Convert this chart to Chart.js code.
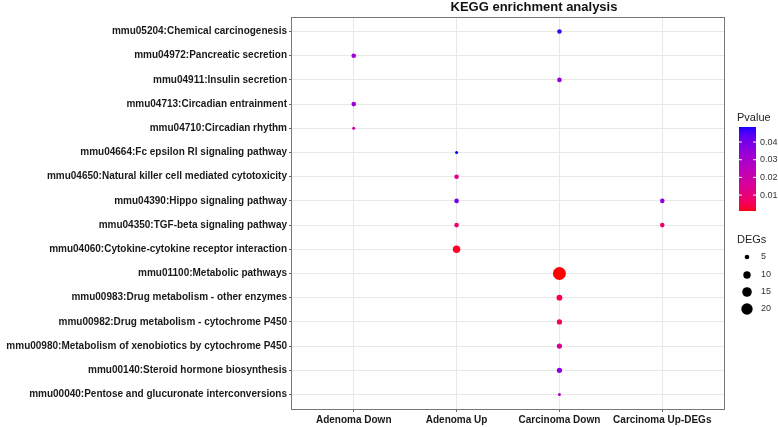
<!DOCTYPE html>
<html>
<head>
<meta charset="utf-8">
<script src="https://cdn.jsdelivr.net/npm/chart.js@4.4.1/dist/chart.umd.min.js"></script>
<style>
html,body{margin:0;padding:0;background:#fff;}
#wrap{width:778px;height:427px;}
</style>
</head>
<body>
<div id="wrap"><canvas id="keggChart" width="778" height="427"></canvas></div>
<script>
// top to bottom
const pathways = [
"mmu05204:Chemical carcinogenesis",
"mmu04972:Pancreatic secretion",
"mmu04911:Insulin secretion",
"mmu04713:Circadian entrainment",
"mmu04710:Circadian rhythm",
"mmu04664:Fc epsilon RI signaling pathway",
"mmu04650:Natural killer cell mediated cytotoxicity",
"mmu04390:Hippo signaling pathway",
"mmu04350:TGF-beta signaling pathway",
"mmu04060:Cytokine-cytokine receptor interaction",
"mmu01100:Metabolic pathways",
"mmu00983:Drug metabolism - other enzymes",
"mmu00982:Drug metabolism - cytochrome P450",
"mmu00980:Metabolism of xenobiotics by cytochrome P450",
"mmu00140:Steroid hormone biosynthesis",
"mmu00040:Pentose and glucuronate interconversions"
];

const groups = ["Adenoma Down","Adenoma Up","Carcinoma Down","Carcinoma Up-DEGs"];

// one entry per dot
const pointPathway = [0,1,2,3,4,5,6,7,7,8,8,9,10,11,12,13,14,15];
const pointGroup   = [2,0,2,0,0,1,1,1,3,1,3,1,2,2,2,2,2,2];
const pointPvalue  = [0.046,0.032,0.034,0.032,0.020,0.0485,0.013,0.040,0.034,0.007,0.008,0.002,0.001,0.004,0.006,0.015,0.036,0.028];
const pointDEGs    = [5,5,5,5,3,3,5,5,5,5,5,10,25,7,6,6,6,3];

const colorTicks = [0.01,0.02,0.03,0.04];
const sizeBreaks = [5,10,15,20];

const pMin = Math.min(...pointPvalue);
const pMax = Math.max(...pointPvalue);

// red -> blue, mixed in linear light
function toLin(c){c/=255;return c<=0.04045?c/12.92:Math.pow((c+0.055)/1.055,2.4);}
function fromLin(c){let v=c<=0.0031308?12.92*c:1.055*Math.pow(c,1/2.4)-0.055;return Math.max(0,Math.min(255,Math.round(v*255)));}
function pColor(p){
let t=(p-pMin)/(pMax-pMin);
t=Math.max(0,Math.min(1,t));
const r=fromLin(toLin(255)*(1-t));
const b=fromLin(toLin(255)*t);
return "rgb("+r+",0,"+b+")";
}
function degRadius(n){
return Math.max(1,-1.1+1.52*Math.sqrt(n));
}

let points = [];
for(let i=0;i<pointPathway.length;i++){
points.push({x:pointGroup[i]+1,y:pointPathway[i]+1});
}

const legendPlugin = {
id:"keggLegend",
afterDraw(chart){
const c = chart.ctx;
const a = chart.chartArea;
c.save();
// panel border
c.strokeStyle="#777";
c.lineWidth=1;
c.strokeRect(Math.round(a.left)-0.5,Math.round(a.top)+0.5,Math.round(a.right-a.left)+1,Math.round(a.bottom-a.top));
// title
c.fillStyle="#111";
c.font="bold 13px 'Liberation Sans', Arial, sans-serif";
c.textAlign="center";
c.textBaseline="middle";
c.fillText("KEGG enrichment analysis",534,7);
// Pvalue colour bar
c.textAlign="left";
c.font="11px 'Liberation Sans', Arial, sans-serif";
c.fillStyle="#222";
c.fillText("Pvalue",737,118);
const barTop=127, barBot=211, barX=739, barW=17;
for(let y=barTop;y<barBot;y++){
const v=pMax-(y+0.5-barTop)/(barBot-barTop)*(pMax-pMin);
c.fillStyle=pColor(v);
c.fillRect(barX,y,barW,1);
}
c.font="9px 'Liberation Sans', Arial, sans-serif";
for(let i=0;i<colorTicks.length;i++){
const y=barTop+(pMax-colorTicks[i])/(pMax-pMin)*(barBot-barTop);
c.strokeStyle="#fff";
c.beginPath();
c.moveTo(barX,y);c.lineTo(barX+3,y);
c.moveTo(barX+barW-3,y);c.lineTo(barX+barW,y);
c.stroke();
c.fillStyle="#333";
c.fillText(colorTicks[i].toFixed(2),760,y);
}
// DEGs size legend
c.font="11px 'Liberation Sans', Arial, sans-serif";
c.fillStyle="#222";
c.fillText("DEGs",737,240);
const sizeY=[257,275,292,309];
c.font="9px 'Liberation Sans', Arial, sans-serif";
for(let i=0;i<sizeBreaks.length;i++){
c.fillStyle="#000";
c.beginPath();
c.arc(747,sizeY[i],degRadius(sizeBreaks[i]),0,Math.PI*2);
c.fill();
c.fillStyle="#333";
c.fillText(String(sizeBreaks[i]),761,sizeY[i]);
}
c.restore();
}
};

const ctx = document.getElementById("keggChart").getContext("2d");

const chart = new Chart(ctx,{
type:"scatter",
data:{
datasets:[{
data:points,
pointRadius:pointDEGs.map(degRadius),
pointHoverRadius:pointDEGs.map(degRadius),
pointBackgroundColor:pointPvalue.map(pColor),
pointBorderWidth:0,
borderWidth:0
}]
},
options:{
animation:false,
responsive:false,
devicePixelRatio:1,
layout:{padding:{top:17,right:54,left:0,bottom:0}},
plugins:{legend:{display:false},tooltip:{enabled:false}},
scales:{
x:{
type:"linear",
bounds:"data",
min:0.4,
max:4.6,
afterBuildTicks:s=>{s.ticks=groups.map((g,i)=>({value:i+1}));},
afterFit:s=>{s.height=18;},
ticks:{
callback:v=>groups[v-1],
font:{family:"'Liberation Sans', Arial, sans-serif",size:10,weight:"bold"},
color:"#1a1a1a",
padding:2,
maxRotation:0,
autoSkip:false
},
grid:{color:"#e8e8e8",tickColor:"#666",tickLength:3},
border:{display:false}
},
y:{
type:"linear",
bounds:"data",
reverse:true,
min:0.4,
max:16.6,
afterBuildTicks:s=>{s.ticks=pathways.map((p,i)=>({value:i+1}));},
afterFit:s=>{s.width=292;},
ticks:{
callback:v=>pathways[v-1],
font:{family:"'Liberation Sans', Arial, sans-serif",size:10,weight:"bold"},
color:"#1a1a1a",
padding:2,
autoSkip:false
},
grid:{color:"#e8e8e8",tickColor:"#666",tickLength:3},
border:{display:false}
}
}
},
plugins:[legendPlugin]
});
</script>
</body>
</html>
